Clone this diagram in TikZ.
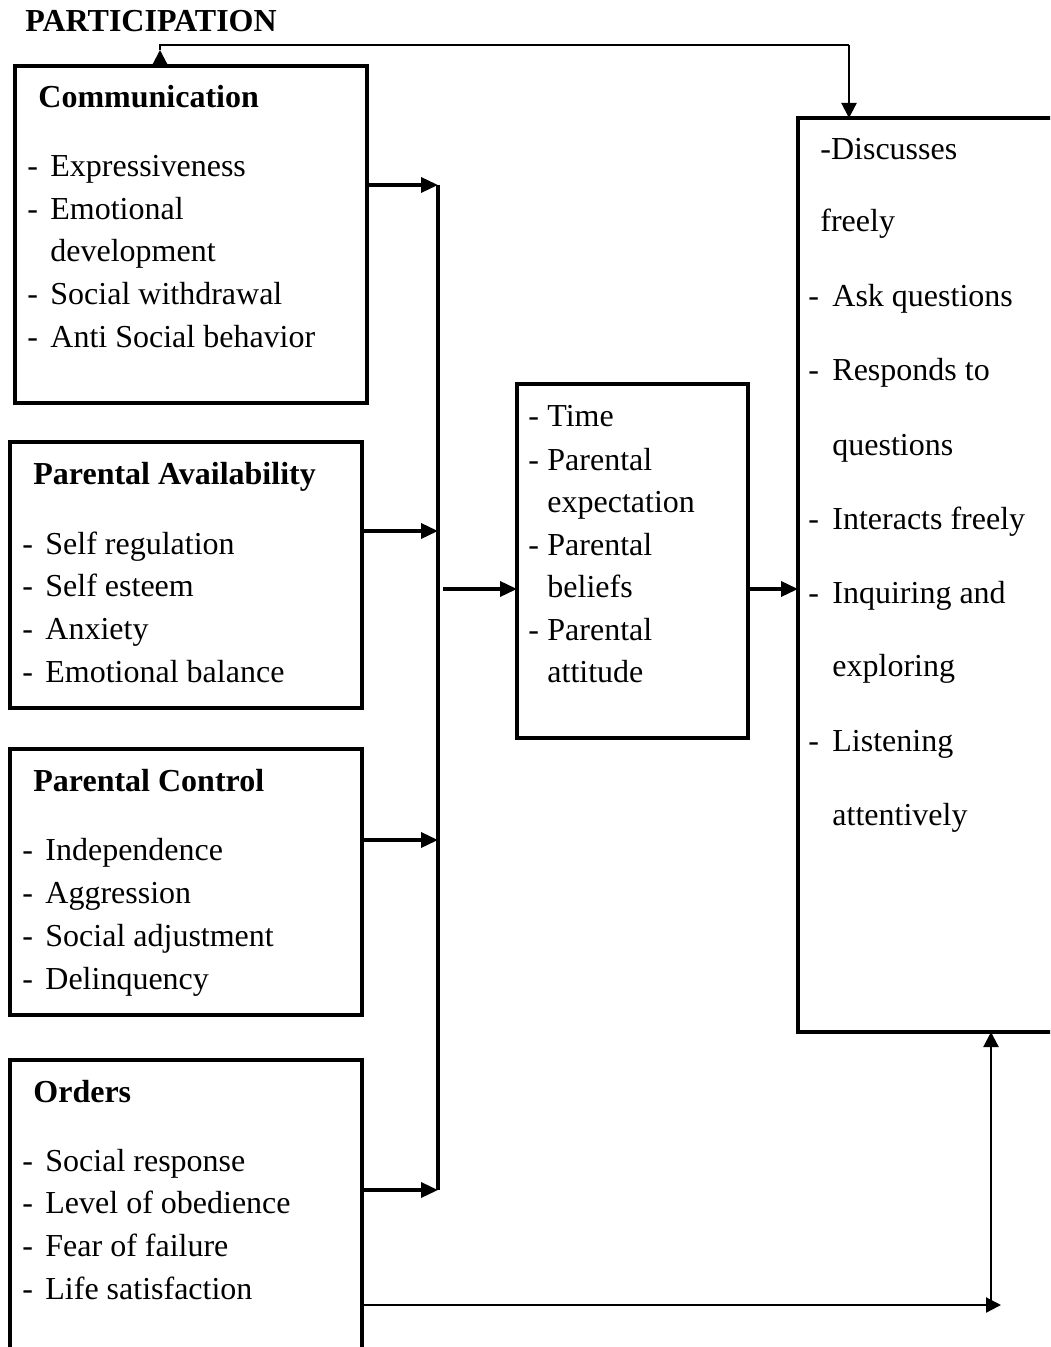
\documentclass[tikz,border=0pt]{standalone}
\usepackage{fontspec}
\setmainfont{Liberation Serif}
\usetikzlibrary{arrows.meta,fit}
\begin{document}
\begin{tikzpicture}[x=0.5pt,y=-0.5pt,
  box/.style={draw,line width=1.75pt,inner sep=0pt,outer sep=0pt},
  txt/.style={anchor=base west,inner sep=0pt,font=\fontsize{16}{19}\selectfont},
  hd/.style={anchor=base west,inner sep=0pt,font=\fontsize{16}{19}\selectfont\bfseries},
  busline/.style={line width=1.75pt},
  thickarrow/.style={line width=1.75pt,-{Triangle[length=8.5pt,width=7.5pt]}},
  thinline/.style={line width=1.1pt},
  thinarrow/.style={line width=1.1pt,-{Triangle[length=7.5pt,width=7.5pt]}},
]
\path[use as bounding box, clip] (0,0) rectangle (1050,1347);
\fill[white] (0,0) rectangle (1050,1347);

% boxes
\node[box,fit={(15,66)(367,403)}] (comm) {};
\node[box,fit={(10,442)(362,708)}] (avail) {};
\node[box,fit={(10,749)(362,1015)}] (ctrl) {};
\node[box,fit={(10,1060)(362,1420)}] (orders) {};
\node[box,fit={(517,384)(748,738)}] (mid) {};
\node[box,fit={(798,118)(1120,1032)}] (out) {};

% title
\node[hd] (title) at (25,32) {PARTICIPATION};

% Communication
\node[hd] (commh) at (38,108) {Communication};
\node[txt] (c1d) at (27,177) {-}; \node[txt] (c1) at (50,177) {Expressiveness};
\node[txt] (c2d) at (27,220) {-}; \node[txt] (c2) at (50,220) {Emotional};
\node[txt] (c3) at (50,262) {development};
\node[txt] (c4d) at (27,305) {-}; \node[txt] (c4) at (50,305) {Social withdrawal};
\node[txt] (c5d) at (27,348) {-}; \node[txt] (c5) at (50,348) {Anti Social behavior};

% Parental Availability
\node[hd] (availh) at (33,484) {Parental Availability};
\node[txt] (a1d) at (22,554) {-}; \node[txt] (a1) at (45,554) {Self regulation};
\node[txt] (a2d) at (22,596) {-}; \node[txt] (a2) at (45,596) {Self esteem};
\node[txt] (a3d) at (22,639) {-}; \node[txt] (a3) at (45,639) {Anxiety};
\node[txt] (a4d) at (22,682) {-}; \node[txt] (a4) at (45,682) {Emotional balance};

% Parental Control
\node[hd] (ctrlh) at (33,791) {Parental Control};
\node[txt] (p1d) at (22,860) {-}; \node[txt] (p1) at (45,860) {Independence};
\node[txt] (p2d) at (22,903) {-}; \node[txt] (p2) at (45,903) {Aggression};
\node[txt] (p3d) at (22,946) {-}; \node[txt] (p3) at (45,946) {Social adjustment};
\node[txt] (p4d) at (22,989) {-}; \node[txt] (p4) at (45,989) {Delinquency};

% Orders
\node[hd] (ordh) at (33,1102) {Orders};
\node[txt] (o1d) at (22,1171) {-}; \node[txt] (o1) at (45,1171) {Social response};
\node[txt] (o2d) at (22,1213) {-}; \node[txt] (o2) at (45,1213) {Level of obedience};
\node[txt] (o3d) at (22,1256) {-}; \node[txt] (o3) at (45,1256) {Fear of failure};
\node[txt] (o4d) at (22,1299) {-}; \node[txt] (o4) at (45,1299) {Life satisfaction};

% middle
\node[txt] (m1d) at (528,427) {-}; \node[txt] (m1) at (547,427) {Time};
\node[txt] (m2d) at (528,470) {-}; \node[txt] (m2) at (547,470) {Parental};
\node[txt] (m3) at (547,512) {expectation};
\node[txt] (m4d) at (528,555) {-}; \node[txt] (m4) at (547,555) {Parental};
\node[txt] (m5) at (547,597) {beliefs};
\node[txt] (m6d) at (528,640) {-}; \node[txt] (m6) at (547,640) {Parental};
\node[txt] (m7) at (547,682) {attitude};

% right
\node[txt] (r1) at (820,160) {-Discusses};
\node[txt] (r2) at (820,232) {freely};
\node[txt] (r3d) at (808,307) {-}; \node[txt] (r3) at (832,307) {Ask questions};
\node[txt] (r4d) at (808,381) {-}; \node[txt] (r4) at (832,381) {Responds to};
\node[txt] (r5) at (832,455) {questions};
\node[txt] (r6d) at (808,529) {-}; \node[txt] (r6) at (832,529) {Interacts freely};
\node[txt] (r7d) at (808,603) {-}; \node[txt] (r7) at (832,603) {Inquiring and};
\node[txt] (r8) at (832,676) {exploring};
\node[txt] (r9d) at (808,751) {-}; \node[txt] (r9) at (832,751) {Listening};
\node[txt] (r10) at (832,825) {attentively};

% bus and arrows
\coordinate (btop) at (438,185);
\coordinate (b2) at (438,531);
\coordinate (b3) at (438,840);
\coordinate (bbot) at (438,1190);
\coordinate (bm) at (443,589);
\draw[busline] (btop) -- (bbot);
\draw[thickarrow] (comm.east |- btop) -- (btop);
\draw[thickarrow] (avail.east |- b2) -- (b2);
\draw[thickarrow] (ctrl.east |- b3) -- (b3);
\draw[thickarrow] (orders.east |- bbot) -- (bbot);
\draw[thickarrow] (bm) -- (mid.west |- bm);
\draw[thickarrow] (mid.east |- bm) -- (out.west |- bm);

% top connector
\coordinate (tl) at (160,45);
\coordinate (ttip) at (160,50);
\coordinate (tr) at (849,45);
\draw[thinarrow] (comm.north -| tl) -- (ttip);
\draw[thinline] (ttip) -- (tl) -- (tr);
\draw[thinarrow] (tr) -- (out.north -| tr);

% bottom connector
\coordinate (br) at (991,1305);
\coordinate (brt) at (1001,1305);
\draw[thinarrow] (orders.east |- br) -- (brt);
\draw[thinarrow] (br) -- (out.south -| br);
\end{tikzpicture}
\end{document}
